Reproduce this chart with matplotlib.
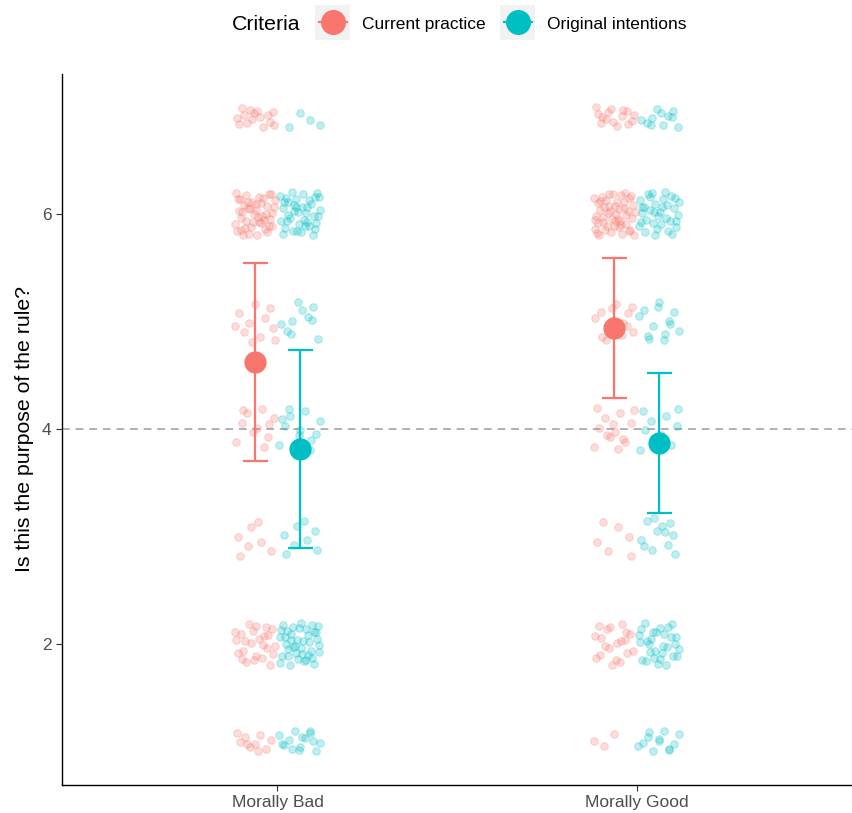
#!/usr/bin/env python3
import numpy as np
import matplotlib.pyplot as plt
from matplotlib.patches import Rectangle
from matplotlib.lines import Line2D

plt.rcParams["font.family"] = ["Liberation Sans", "DejaVu Sans"]

# rating scale and conditions
ratings = [1, 2, 3, 4, 5, 6, 7]
conditions = ["Morally Bad", "Morally Good"]
criteria = ["Current practice", "Original intentions"]
colors = {"Current practice": "#F8766D", "Original intentions": "#00BFC4"}

# number of responses at each rating (1..7)
counts_bad_current = [10, 25, 7, 11, 11, 45, 15]
counts_bad_original = [15, 40, 8, 14, 10, 40, 4]
counts_good_current = [3, 20, 6, 14, 13, 50, 15]
counts_good_original = [12, 30, 12, 10, 13, 35, 11]

# summary: mean and error half-width
mean_current = [4.62, 4.94]
err_current = [0.92, 0.65]
mean_original = [3.81, 3.87]
err_original = [0.92, 0.65]

counts = {
    ("Morally Bad", "Current practice"): counts_bad_current,
    ("Morally Bad", "Original intentions"): counts_bad_original,
    ("Morally Good", "Current practice"): counts_good_current,
    ("Morally Good", "Original intentions"): counts_good_original,
}
means = {"Current practice": (mean_current, err_current),
         "Original intentions": (mean_original, err_original)}

W, H = 852, 813


def halton(n, base, start=1):
    out = []
    for i in range(start, start + n):
        f, r, k = 1.0, 0.0, i
        while k > 0:
            f /= base
            r += f * (k % base)
            k //= base
        out.append(r)
    return np.array(out)


def fx(px):
    return px / W


def fy(py):
    return 1 - py / H


dodge = 0.062
jit_w = 0.058
jit_h = 0.2

fig = plt.figure(figsize=(W / 100, H / 100), dpi=100)
ax = fig.add_axes([fx(62), 28 / H, 790 / W, 711 / H])

ax.axhline(4, color="#B0B0B0", linestyle=(0, (4, 3)), linewidth=1.4, zorder=1)

offset = 1
for ci, cond in enumerate(conditions):
    for gi, crit in enumerate(criteria):
        xc = ci + 1 + (gi - 0.5) * 2 * dodge
        xs, ys = [], []
        for r, n in zip(ratings, counts[(cond, crit)]):
            u = halton(n, 2, offset)
            v = halton(n, 3, offset)
            offset += n
            lo, hi = -jit_h, jit_h
            if r == 1:
                lo = 0.0
            if r == 7:
                hi = 0.0
            xs.extend(xc + (u * 2 - 1) * jit_w)
            ys.extend(r + lo + v * (hi - lo))
        ax.scatter(xs, ys, s=30, color=colors[crit], alpha=0.25,
                   linewidths=0.8, zorder=2)

for gi, crit in enumerate(criteria):
    m, e = means[crit]
    xs = np.arange(1, 3) + (gi - 0.5) * 2 * dodge
    ax.errorbar(xs, m, yerr=e, fmt="none", ecolor=colors[crit],
                elinewidth=1.6, capsize=9, capthick=1.6, zorder=3)
    ax.plot(xs, m, "o", color=colors[crit], markersize=15, zorder=4)

ax.set_xlim(0.4, 2.6)
ax.set_ylim(0.69, 7.30)
ax.set_xticks([1, 2])
ax.set_xticklabels(conditions)
ax.set_yticks([2, 4, 6])
ax.tick_params(colors="#333333", labelcolor="#4D4D4D", labelsize=12.5,
               length=4, width=0.8)
for side in ["top", "right"]:
    ax.spines[side].set_visible(False)
for side in ["left", "bottom"]:
    ax.spines[side].set_linewidth(1.0)
ax.set_ylabel("Is this the purpose of the rule?", fontsize=15.3, labelpad=6)

# legend along the top, laid out by hand
fig.text(fx(232), fy(24), "Criteria", fontsize=15.3, ha="left", va="center")
key_left = [315, 500]
for crit, kx in zip(criteria, key_left):
    fig.add_artist(Rectangle((fx(kx), fy(40)), 35 / W, 35 / H,
                             transform=fig.transFigure, facecolor="#F2F2F2",
                             edgecolor="none"))
    cx = kx + 17.5
    fig.add_artist(Line2D([fx(cx - 14), fx(cx + 14)], [fy(22.5), fy(22.5)],
                          transform=fig.transFigure, color=colors[crit],
                          linewidth=1.6))
    fig.add_artist(Line2D([fx(cx)], [fy(22.5)], transform=fig.transFigure,
                          marker="o", markersize=17, color=colors[crit],
                          linestyle="none"))
    fig.text(fx(kx + 47), fy(24), crit, fontsize=12.5, ha="left", va="center")

fig.savefig("out.png", dpi=100)
